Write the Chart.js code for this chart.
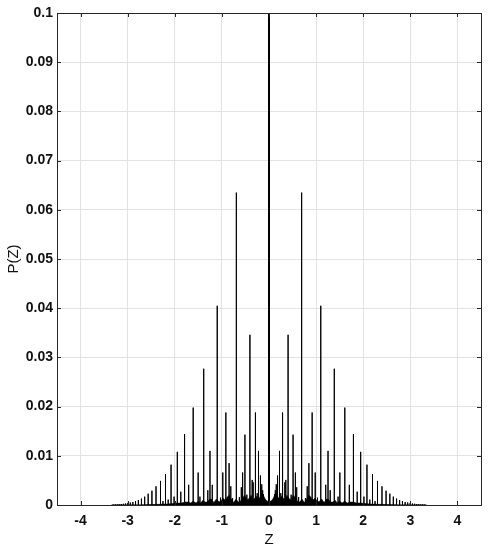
<!DOCTYPE html>
<html>
<head>
<meta charset="utf-8">
<script src="https://cdn.jsdelivr.net/npm/chart.js@4.4.0/dist/chart.umd.min.js"></script>
<style>
  html, body { margin: 0; padding: 0; background: #fff; }
  #wrap { width: 500px; height: 551px; }
</style>
</head>
<body>
<div id="wrap"><canvas id="pz"></canvas></div>
<script>
// ===============================
// DATA
// ===============================
const xTicks = [-4, -3, -2, -1, 0, 1, 2, 3, 4]
const yTicks = [0, 0.01, 0.02, 0.03, 0.04, 0.05, 0.06, 0.07, 0.08, 0.09, 0.1]

// centre spike
const centreZ = 0
const centreP = 0.1

// spikes for Z > 0, the picture is mirrored about Z = 0
const spikeZ = [0.118, 0.134, 0.154, 0.182, 0.223, 0.251, 0.288, 0.336, 0.357, 0.405,
  0.470, 0.511, 0.560, 0.588, 0.629, 0.693, 0.773, 0.811, 0.847, 0.916,
  0.981, 1.030, 1.099, 1.204, 1.253, 1.299, 1.386, 1.466, 1.504, 1.609,
  1.705, 1.792, 1.872, 1.946, 2.015, 2.079, 2.140, 2.197, 2.251, 2.303,
  2.398, 2.485, 2.565, 2.639, 2.708, 2.773, 2.833, 2.890, 2.944, 2.996,
  3.045, 3.091, 3.135, 3.178, 3.219, 3.258, 3.296, 3.332]
const spikeP = [0.0022, 0.0030, 0.0042, 0.0060, 0.0110, 0.0024, 0.0188, 0.0046, 0.0051, 0.0346,
  0.0021, 0.0143, 0.0066, 0.0036, 0.0016, 0.0635, 0.0014, 0.0038, 0.0085, 0.0188,
  0.0066, 0.0015, 0.0405, 0.0041, 0.0110, 0.0030, 0.0277, 0.0017, 0.0066, 0.0198,
  0.0041, 0.0144, 0.0027, 0.0108, 0.0017, 0.0082, 0.0011, 0.0063, 0.0008, 0.0049,
  0.0038, 0.0029, 0.0023, 0.0017, 0.0013, 0.0010, 0.0008, 0.0006, 0.0005, 0.0004,
  0.0003, 0.00025, 0.0002, 0.00015, 0.00012, 0.0001, 0.00008, 0.00005]

// outline of the dense clutter at the foot of the spikes (Z >= 0)
const skirtZ = [0, 0.04, 0.08, 0.12, 0.16, 0.19, 0.23, 0.27, 0.30, 0.34,
  0.38, 0.41, 0.45, 0.49, 0.52, 0.56, 0.60, 0.65, 0.70, 0.75,
  0.80, 0.85, 0.89, 0.93, 0.98, 1.03, 1.08, 1.12, 1.17, 1.22,
  1.26, 1.31, 1.36, 1.40, 1.45, 1.50, 1.55, 1.61, 1.66, 1.72,
  1.79, 1.86, 1.95, 2.05, 2.15, 2.3, 2.45, 2.7]
const skirtP = [0.0006, 0.0008, 0.0012, 0.0020, 0.0024, 0.0016, 0.0012, 0.0018, 0.0014, 0.0010,
  0.0020, 0.0016, 0.0010, 0.0016, 0.0020, 0.0014, 0.0008, 0.0006, 0.0012, 0.0005,
  0.0012, 0.0020, 0.0016, 0.0010, 0.0014, 0.0006, 0.0008, 0.0012, 0.0005, 0.0012,
  0.0012, 0.0006, 0.0006, 0.0010, 0.0004, 0.0008, 0.0004, 0.0008, 0.0004, 0.0006,
  0.0006, 0.0004, 0.0004, 0.0003, 0.0002, 0.00015, 0.0001, 0]

// ===============================
// BUILD POINTS
// ===============================
function mirror(zs, ps) {
  const pts = []
  zs.forEach((z, i) => {
    pts.push({ x: z, y: ps[i] })
    if (z !== 0) pts.push({ x: -z, y: ps[i] })
  })
  return pts.sort((a, b) => a.x - b.x)
}

// every spike is a vertical stroke up from the baseline and back down
function toStrokes(pts) {
  const out = []
  pts.forEach(p => {
    out.push({ x: p.x, y: 0 }, { x: p.x, y: p.y }, { x: p.x, y: 0 })
  })
  return out
}

const spikePoints = toStrokes(mirror(spikeZ, spikeP))
const centrePoints = toStrokes([{ x: centreZ, y: centreP }])
const skirtPoints = mirror(skirtZ, skirtP)

// ===============================
// FRAME + INNER TICKS (matlab style box)
// ===============================
const boxPlugin = {
  id: "box",
  afterDatasetsDraw(chart) {
    const { ctx, chartArea: a, scales } = chart
    ctx.save()
    ctx.strokeStyle = "#262626"
    ctx.lineWidth = 1
    ctx.beginPath()
    xTicks.forEach(v => {
      const px = Math.round(scales.x.getPixelForValue(v)) + 0.5
      ctx.moveTo(px, a.bottom); ctx.lineTo(px, a.bottom - 4)
      ctx.moveTo(px, a.top); ctx.lineTo(px, a.top + 4)
    })
    yTicks.forEach(v => {
      const py = Math.round(scales.y.getPixelForValue(v)) + 0.5
      ctx.moveTo(a.left, py); ctx.lineTo(a.left + 4, py)
      ctx.moveTo(a.right, py); ctx.lineTo(a.right - 4, py)
    })
    ctx.stroke()
    ctx.strokeRect(Math.round(a.left) + 0.5, Math.round(a.top) + 0.5,
      Math.round(a.right - a.left), Math.round(a.bottom - a.top))
    ctx.restore()
  }
}

// ===============================
// CHART
// ===============================
const tickFont = { family: "'Liberation Sans', Arial, sans-serif", size: 14, weight: "bold" }
const titleFont = { family: "'Liberation Sans', Arial, sans-serif", size: 15, weight: "normal" }

new Chart(document.getElementById("pz"), {
  type: "scatter",
  data: {
    datasets: [
      {
        label: "skirt",
        data: skirtPoints,
        showLine: true,
        fill: "origin",
        backgroundColor: "#000",
        borderColor: "#000",
        borderWidth: 0.5,
        pointRadius: 0,
        tension: 0
      },
      {
        label: "spikes",
        data: spikePoints,
        showLine: true,
        borderColor: "#000",
        borderWidth: 1,
        pointRadius: 0,
        tension: 0
      },
      {
        label: "centre",
        data: centrePoints,
        showLine: true,
        borderColor: "#000",
        borderWidth: 2,
        pointRadius: 0,
        tension: 0
      }
    ]
  },
  options: {
    responsive: true,
    maintainAspectRatio: false,
    animation: false,
    events: [],
    layout: { padding: { top: 13, right: 19, left: 0, bottom: 0 } },
    plugins: {
      legend: { display: false },
      tooltip: { enabled: false }
    },
    scales: {
      x: {
        type: "linear",
        min: -4.5,
        max: 4.5,
        afterBuildTicks: s => { s.ticks = xTicks.map(v => ({ value: v })) },
        afterFit: s => { s.height = 46 },
        grid: { color: "#e2e2e2", drawTicks: false },
        border: { display: false },
        ticks: { font: tickFont, color: "#111", padding: 8, maxRotation: 0 },
        title: { display: true, text: "Z", font: titleFont, color: "#111", padding: { top: 0, bottom: 2 } }
      },
      y: {
        type: "linear",
        min: 0,
        max: 0.1,
        afterBuildTicks: s => { s.ticks = yTicks.map(v => ({ value: v })) },
        afterFit: s => { s.width = 57 },
        grid: { color: "#e2e2e2", drawTicks: false },
        border: { display: false },
        ticks: { font: tickFont, color: "#111", padding: 4, callback: v => String(+v.toFixed(2)) },
        title: { display: true, text: "P(Z)", font: titleFont, color: "#111", padding: { top: 5, bottom: 0 } }
      }
    }
  },
  plugins: [boxPlugin]
})
</script>
</body>
</html>
